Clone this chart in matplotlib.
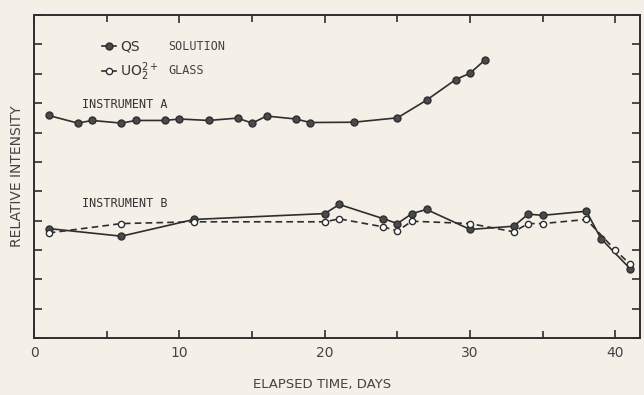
import numpy as np
import matplotlib
matplotlib.use("Agg")
import matplotlib.pyplot as plt
from matplotlib.ticker import MultipleLocator, NullFormatter

# instrument A, QS solution
a_days = [1, 3, 4, 6, 7, 9, 10, 12, 14, 15, 16, 18, 19, 22, 25, 27, 29, 30, 31]
a_qs = [7.58, 7.32, 7.41, 7.32, 7.41, 7.41, 7.46, 7.41, 7.49, 7.32, 7.56, 7.46, 7.34,
        7.35, 7.5, 8.1, 8.8, 9.02, 9.46]

# instrument B, QS solution
b_days = [1, 6, 11, 20, 21, 24, 25, 26, 27, 30, 33, 34, 35, 38, 39, 41]
b_qs = [3.73, 3.47, 4.04, 4.24, 4.55, 4.07, 3.9, 4.24, 4.38, 3.7, 3.81, 4.22, 4.18,
        4.32, 3.39, 2.37]

# instrument B, UO2 glass
g_days = [1, 6, 11, 20, 21, 24, 25, 26, 30, 33, 34, 35, 38, 40, 41]
g_uo2 = [3.58, 3.9, 3.96, 3.96, 4.06, 3.79, 3.65, 3.98, 3.9, 3.62, 3.9, 3.9, 4.04,
         2.99, 2.52]

bg = "#f4efe7"
ink = "#2e2e2e"
plt.rcParams['font.family'] = ['DejaVu Sans']

fig = plt.figure(figsize=(6.44, 3.95), dpi=100, facecolor=bg)
ax = fig.add_axes([0.053, 0.144, 0.941, 0.818], facecolor=bg)

ax.plot(a_days, a_qs, '-o', color=ink, mfc="#4a4a4a", mec=ink, ms=5, lw=1.2)
ax.plot(b_days, b_qs, '-o', color=ink, mfc="#4a4a4a", mec=ink, ms=5, lw=1.2)
ax.plot(g_days, g_uo2, '--o', color=ink, mfc="white", mec=ink, ms=4.5, lw=1.2,
        dashes=(4, 2.5))

ax.set_xlim(0, 41.7)
ax.set_ylim(0, 11)
ax.xaxis.set_major_locator(MultipleLocator(10))
ax.xaxis.set_minor_locator(MultipleLocator(5))
ax.yaxis.set_major_locator(MultipleLocator(1))
ax.yaxis.set_major_formatter(NullFormatter())
ax.tick_params(which='both', direction='in', top=True, right=True, color=ink, width=1.2)
ax.tick_params(which='major', length=6)
ax.tick_params(which='minor', length=5)
ax.tick_params(axis='x', labelsize=10, labelcolor="#444444", pad=6)
for s in ax.spines.values():
    s.set_linewidth(1.4)
    s.set_color(ink)

# legend
h1, = ax.plot([], [], '-o', color=ink, mfc="#4a4a4a", mec=ink, ms=5, lw=1.2)
h2, = ax.plot([], [], '-o', color=ink, mfc="white", mec=ink, ms=4.5, lw=1.2)
ax.legend([h1, h2], ["QS", "UO$_2^{2+}$"], loc='upper left',
          bbox_to_anchor=(0.092, 0.962), frameon=False, handlelength=1.0,
          handletextpad=0.3, labelspacing=0.45, fontsize=10,
          labelcolor="#333333")
ax.text(0.222, 0.904, "SOLUTION", transform=ax.transAxes, fontsize=8.5,
        family='DejaVu Sans Mono', color="#444444", va='center')
ax.text(0.222, 0.827, "GLASS", transform=ax.transAxes, fontsize=8.5,
        family='DejaVu Sans Mono', color="#444444", va='center')

ax.text(3.3, 7.96, "INSTRUMENT A", fontsize=8.5, family='DejaVu Sans Mono',
        color="#333333", va='center')
ax.text(3.3, 4.59, "INSTRUMENT B", fontsize=8.5, family='DejaVu Sans Mono',
        color="#333333", va='center')

ax.set_ylabel("RELATIVE INTENSITY", fontsize=10, color="#444444", labelpad=4)
ax.set_xlabel("ELAPSED TIME, DAYS", fontsize=9.5, color="#444444")
ax.xaxis.set_label_coords(0.475, -0.124)

fig.savefig("out.png", dpi=100, facecolor=bg)
